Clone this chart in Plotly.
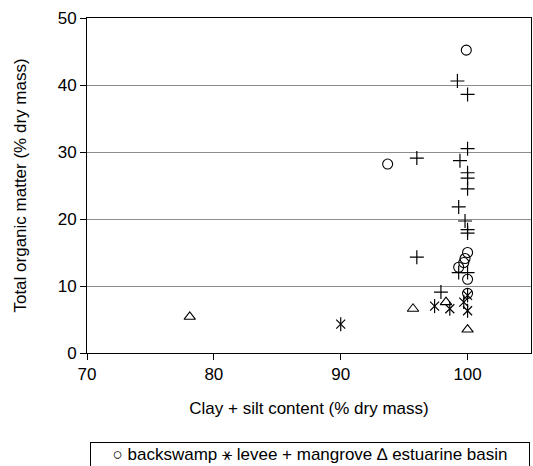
import plotly.graph_objects as go

# Data (x: clay+silt %, y: total organic matter %)
backswamp_x = [99.9, 93.7, 100.0, 99.8, 99.7, 99.3, 100.0, 100.0]
backswamp_y = [45.2, 28.2, 15.0, 14.1, 13.5, 12.8, 11.0, 8.9]

levee_x = [90.0, 97.4, 98.6, 99.7, 100.0, 100.0]
levee_y = [4.3, 7.0, 6.6, 7.6, 8.6, 6.3]

mangrove_x = [99.2, 100.0, 100.0, 96.0, 99.4, 100.0, 100.0, 100.0, 99.3, 99.8,
              100.0, 100.0, 96.0, 99.3, 100.0, 97.9]
mangrove_y = [40.6, 38.6, 30.5, 29.1, 28.7, 26.9, 26.1, 24.5, 21.8, 19.7,
              18.4, 17.9, 14.3, 12.0, 12.0, 9.1]

estuarine_x = [78.1, 95.7, 98.3, 100.0]
estuarine_y = [5.4, 6.6, 7.6, 3.5]

series_names = ["backswamp", "levee", "mangrove", "estuarine basin"]
legend_glyphs = ["○", "⚹", "+", "∆"]

x_ticks = [70, 80, 90, 100]
y_ticks = [0, 10, 20, 30, 40, 50]

FONT = "Liberation Sans, Arial, sans-serif"
blk = "black"

fig = go.Figure()
fig.add_trace(go.Scatter(x=backswamp_x, y=backswamp_y, mode="markers", name=series_names[0],
                         marker=dict(symbol="circle-open", size=10, color=blk, line=dict(width=1.1, color=blk))))
fig.add_trace(go.Scatter(x=levee_x, y=levee_y, mode="markers", name=series_names[1],
                         marker=dict(symbol="x-thin-open", size=9, color=blk, line=dict(width=1.2, color=blk))))
fig.add_trace(go.Scatter(x=levee_x, y=levee_y, mode="markers", name=series_names[1],
                         marker=dict(symbol="line-ns-open", size=10, color=blk, line=dict(width=1.2, color=blk))))
fig.add_trace(go.Scatter(x=mangrove_x, y=mangrove_y, mode="markers", name=series_names[2],
                         marker=dict(symbol="cross-thin-open", size=10, color=blk, line=dict(width=1.2, color=blk))))
fig.add_trace(go.Scatter(x=estuarine_x, y=estuarine_y, mode="markers", name=series_names[3],
                         marker=dict(symbol="triangle-up-open", size=10, color=blk, line=dict(width=1.1, color=blk))))

legend_text = " ".join(f"{g} {n}" for g, n in zip(legend_glyphs, series_names))

fig.update_layout(
    width=533, height=466,
    margin=dict(l=87, r=2, t=18, b=113),
    paper_bgcolor="white", plot_bgcolor="white",
    font=dict(family=FONT, size=17, color=blk),
    showlegend=False,
    xaxis=dict(range=[70, 105], tickvals=x_ticks, ticks="outside", ticklen=6, tickcolor=blk,
               showgrid=False, zeroline=False, showline=True, linecolor=blk, linewidth=1, mirror=True,
               automargin=False,
               title=dict(text="Clay + silt content (% dry mass)", standoff=18, font=dict(size=17))),
    yaxis=dict(range=[0, 50], tickvals=y_ticks, ticks="outside", ticklen=6, tickcolor=blk,
               showgrid=True, gridcolor="#8c8c8c", gridwidth=1, zeroline=False,
               showline=True, linecolor=blk, linewidth=1, mirror=True, automargin=False,
               title=dict(text="Total organic matter (% dry mass)", standoff=26, font=dict(size=17))),
    annotations=[dict(text=legend_text, xref="paper", yref="paper", x=0.503, y=-0.3015,
                      xanchor="center", yanchor="middle", showarrow=False, align="center",
                      width=434, bordercolor=blk, borderwidth=1, borderpad=2,
                      font=dict(family=FONT, size=17, color=blk))],
)

fig.write_html("out.html", config={"displayModeBar": False},
               post_script="document.body.style.margin='0px';document.body.style.overflow='hidden';")
